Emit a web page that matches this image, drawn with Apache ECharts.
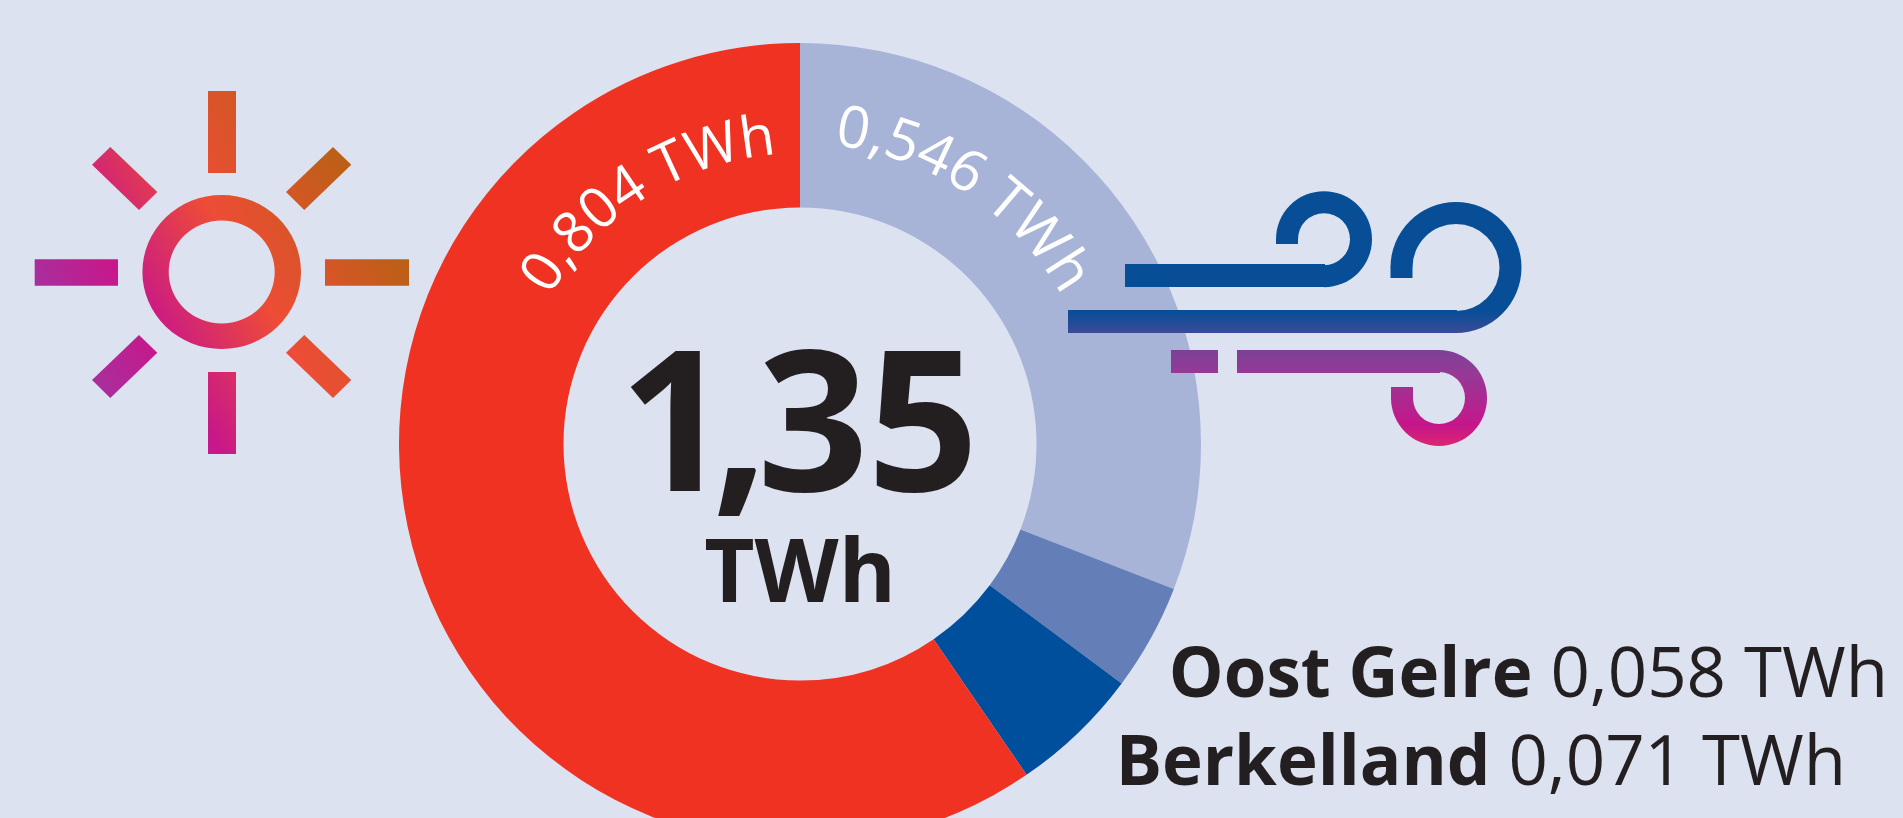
<!DOCTYPE html>
<html>
<head>
<meta charset="utf-8">
<title>TWh</title>
<script src="https://cdn.jsdelivr.net/npm/echarts@6/dist/echarts.min.js"></script>
<style>
  html, body { margin: 0; padding: 0; background: #dce2f0; overflow: hidden; }
  #chart { width: 1903px; height: 818px; }
</style>
</head>
<body>
<div id="chart"></div>
<script>
const sliceNames = ['Overig wind', 'Oost Gelre', 'Berkelland', 'Zon'];
const sliceValues = [0.417, 0.058, 0.071, 0.804];
const sliceColors = ['#a7b4d8', '#647fb7', '#004f9c', '#f03222'];
const totalLabel = '1,35';
const unit = 'TWh';
const windLabel = '0,546 TWh';
const sunLabel = '0,804 TWh';

const cx = 800, cy = 444;
const font = '"Open Sans"';
const ink = '#231f20';

const fmt = v => v.toFixed(3).replace('.', ',') + ' ' + unit;

// zon en wind lopen elk door een eigen verloop
const sunFill = new echarts.graphic.LinearGradient(80, 353, 364.5, 190.6, [
  { offset: 0, color: '#a92e9c' },
  { offset: 0.224, color: '#c8178a' },
  { offset: 0.567, color: '#ee4c36' },
  { offset: 1, color: '#bb6015' }
], true);
const windFill = new echarts.graphic.LinearGradient(0, 191, 0, 446, [
  { offset: 0, color: '#084e96' },
  { offset: 0.4745, color: '#084e96' },
  { offset: 0.557, color: '#3c4a98' },
  { offset: 0.6235, color: '#7c4096' },
  { offset: 0.714, color: '#953a96' },
  { offset: 0.918, color: '#c5168a' },
  { offset: 1, color: '#dc2670' }
], true);

const graphics = [];

function addRect(x, y, width, height, fill) {
  graphics.push({ type: 'rect', z: 10, silent: true, shape: { x, y, width, height }, style: { fill } });
}
function addPoly(points) {
  graphics.push({ type: 'polygon', z: 10, silent: true, shape: { points }, style: { fill: sunFill } });
}
// krul van de windlijn, met een kort recht stukje aan het eind
function addCurl(x, y, r0, r, from, to, clockwise, stubY) {
  graphics.push({
    type: 'sector', z: 10, silent: true,
    shape: { cx: x, cy: y, r0, r, startAngle: from, endAngle: to, clockwise },
    style: { fill: windFill }
  });
  // 1px overlap, anders blijft er een naad zichtbaar
  const top = stubY > y ? y - 1 : stubY;
  const bottom = stubY > y ? stubY : y + 1;
  addRect(x - r, top, r - r0, bottom - top, windFill);
}

// zon
addRect(208, 91, 28, 82, sunFill);
addRect(208, 372, 28, 82, sunFill);
addRect(34.7, 259.3, 83.3, 26.4, sunFill);
addRect(325, 259.3, 84, 26.4, sunFill);
addPoly([[110.3, 147], [157.3, 192], [139, 210], [92, 164.7]]);
addPoly([[333, 147], [351.3, 164.7], [304.3, 210], [286, 192]]);
addPoly([[139, 335], [157.3, 352.7], [110.3, 398], [92, 380]]);
addPoly([[304.3, 335], [351.3, 380], [333, 398], [286, 352.7]]);
graphics.push({
  type: 'ring', z: 10, silent: true,
  originX: 221.7, originY: 272, scaleY: 0.972,
  shape: { cx: 221.7, cy: 272, r: 79.3, r0: 53 },
  style: { fill: sunFill }
});

// wind
addRect(1125, 264, 200, 23, windFill);
addCurl(1324, 239.2, 26, 48, Math.PI / 2, -Math.PI, false, 244);
addRect(1068, 310, 389, 23, windFill);
addCurl(1456, 267.5, 43.5, 65.5, Math.PI / 2, -Math.PI, false, 278);
addRect(1171, 350, 47, 23, windFill);
addRect(1237, 350, 203, 23, windFill);
addCurl(1439, 398, 26, 48, -Math.PI / 2, Math.PI, true, 387);

// tekst over de boog, letter voor letter
const measure = document.createElement('canvas').getContext('2d');
function addArcText(text, midDeg, radius, fontSize) {
  measure.font = '400 ' + fontSize + 'px ' + font;
  const total = measure.measureText(text).width;
  for (let i = 0; i < text.length; i++) {
    const a = measure.measureText(text.slice(0, i)).width;
    const b = measure.measureText(text.slice(0, i + 1)).width;
    const theta = midDeg * Math.PI / 180 + ((a + b) / 2 - total / 2) / radius;
    const rr = radius + fontSize * 0.28;
    graphics.push({
      type: 'text', z: 11, silent: true,
      x: cx + rr * Math.sin(theta),
      y: cy - rr * Math.cos(theta),
      rotation: -theta,
      style: {
        text: text[i], fontFamily: font, fontSize, fontWeight: 400,
        fill: '#fff', align: 'center', verticalAlign: 'middle'
      }
    });
  }
}
addArcText(sunLabel, -32, 291, 57);
addArcText(windLabel, 33.5, 301, 58);

function addText(text, x, y, fontSize, fontWeight) {
  graphics.push({
    type: 'text', z: 11, silent: true, x, y,
    style: { text, fontFamily: font, fontSize, fontWeight, fill: ink, align: 'center', verticalAlign: 'middle' }
  });
}
// de komma staat in het origineel strak tussen de cijfers
const totalCenters = [675, 740, 813, 923];
totalCenters.forEach((x, i) => addText(totalLabel[i], x, 435, 195, 700));
addText(unit, 800, 577, 87, 700);

function addLegend(i, x, y) {
  graphics.push({
    type: 'text', z: 11, silent: true, x, y,
    style: {
      text: '{b|' + sliceNames[i] + '}{v| ' + fmt(sliceValues[i]) + '}',
      align: 'right', verticalAlign: 'middle',
      rich: {
        b: { fontFamily: font, fontSize: 69, fontWeight: 700, fill: ink },
        v: { fontFamily: font, fontSize: 69, fontWeight: 400, fill: ink }
      }
    }
  });
}
addLegend(1, 1888, 677);
addLegend(2, 1846, 765);

const chart = echarts.init(document.getElementById('chart'), null, { renderer: 'canvas' });
chart.setOption({
  animation: false,
  backgroundColor: '#dce2f0',
  series: [{
    type: 'pie',
    silent: true,
    center: [cx, cy],
    radius: [236.5, 401],
    startAngle: 90,
    clockwise: true,
    label: { show: false },
    labelLine: { show: false },
    data: sliceNames.map((name, i) => ({
      name, value: sliceValues[i], itemStyle: { color: sliceColors[i] }
    }))
  }],
  graphic: { elements: graphics }
});
</script>
</body>
</html>
